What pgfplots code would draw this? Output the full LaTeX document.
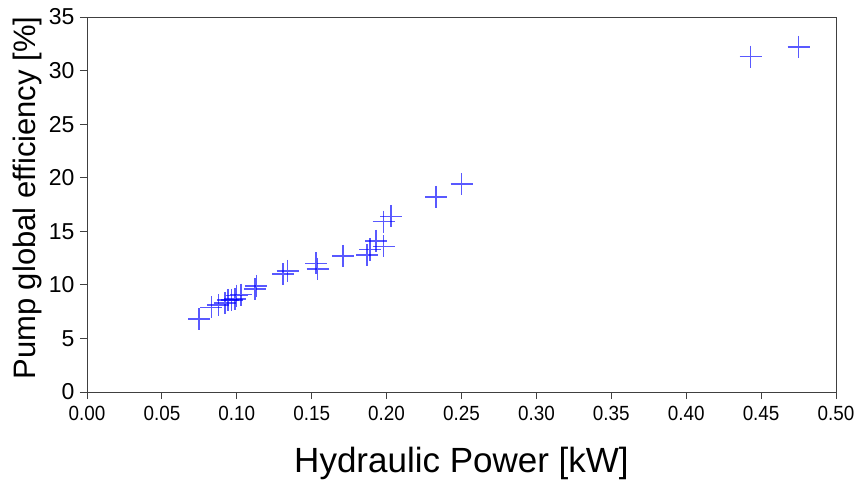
\documentclass[border=0pt]{standalone}
\usepackage{fontspec}
\setmainfont{Liberation Sans}
\usepackage{pgfplots}
\pgfplotsset{compat=1.18}
\begin{document}
\begin{tikzpicture}
\begin{axis}[
  scale only axis,
  width=749bp, height=375bp,
  at={(0,0)}, anchor=south west,
  xmin=0, xmax=0.5, ymin=0, ymax=35,
  xtick={0,0.05,...,0.5},
  ytick={0,5,...,35},
  xticklabel style={/pgf/number format/fixed,/pgf/number format/precision=2,/pgf/number format/fixed zerofill, font=\fontsize{20.5bp}{24bp}\selectfont, xscale=0.92, yshift=-4bp},
  yticklabel style={font=\fontsize{23bp}{27bp}\selectfont, xshift=-2bp},
  /pgf/number format/assume math mode=true,
  tick label style={color=black},
  tick align=outside,
  major tick length=7bp,
  xtick pos=bottom, ytick pos=left,
  axis line style={color=black!75, line width=0.8bp},
  every tick/.style={color=black!75, line width=0.8bp},
  xlabel={Hydraulic Power [kW]},
  ylabel={Pump global efficiency [\%]},
  xlabel style={font=\fontsize{35bp}{40bp}\selectfont, at={(axis description cs:0.5,-0.2155)}, anchor=base},
  ylabel style={font=\fontsize{31bp}{36bp}\selectfont, at={(axis description cs:-0.0790,0.517)}, anchor=center},
]
\addplot[only marks, mark=+, mark size=11bp, color=blue, opacity=0.65, mark options={line width=1.5bp}] coordinates {
(0.0748,6.8)
(0.083,7.9)
(0.0877,8.1)
(0.092,8.3)
(0.094,8.6)
(0.0966,8.6)
(0.0988,8.7)
(0.0999,9.0)
(0.1028,9.1)
(0.112,9.6)
(0.113,9.9)
(0.131,11.0)
(0.134,11.3)
(0.153,12.0)
(0.154,11.5)
(0.171,12.7)
(0.187,12.8)
(0.189,13.3)
(0.193,14.1)
(0.198,13.6)
(0.198,15.9)
(0.203,16.4)
(0.233,18.2)
(0.250,19.4)
(0.443,31.3)
(0.475,32.2)
};
\end{axis}
\pgfresetboundingbox
\path[use as bounding box] (-87bp,-89bp) rectangle (770bp,392bp);
\end{tikzpicture}
\end{document}
